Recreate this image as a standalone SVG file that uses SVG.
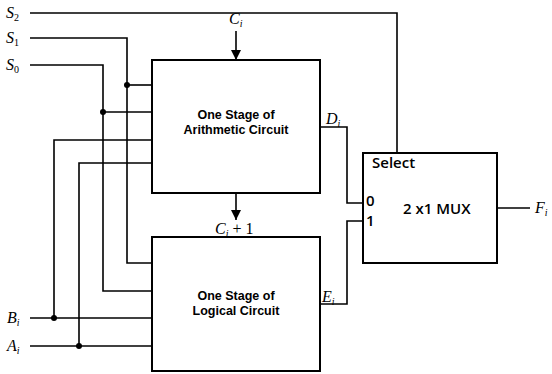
<svg xmlns="http://www.w3.org/2000/svg" width="552" height="374" viewBox="0 0 552 374">
<style>
.w{fill:none;stroke:#000;stroke-width:1.6}
.b{fill:#fff;stroke:#000;stroke-width:2}
.v{font-family:"Liberation Serif",serif;font-style:italic;font-size:16px;fill:#000}
.sub{font-size:10px}
.n{font-style:normal}
.t{font-family:"Liberation Sans",Arial,sans-serif;font-weight:bold;font-size:12.5px;fill:#000;text-anchor:middle}
.m{font-family:"Open Sans","Liberation Sans",sans-serif;font-weight:600;font-size:15px;fill:#000}
</style>
<defs>
<marker id="ah" viewBox="0 0 10 10" refX="10" refY="5" markerWidth="10" markerHeight="10" markerUnits="userSpaceOnUse" orient="auto">
<path d="M0,0 L10,5 L0,10 z" fill="#000"/>
</marker>
</defs>
<g id="labels">
<text class="v" x="6" y="18">S<tspan class="sub n" dy="3">2</tspan></text>
<text class="v" x="6" y="43">S<tspan class="sub n" dy="3">1</tspan></text>
<text class="v" x="6" y="70">S<tspan class="sub n" dy="3">0</tspan></text>
<text class="v" x="7" y="323">B<tspan class="sub" dy="3">i</tspan></text>
<text class="v" x="7" y="351">A<tspan class="sub" dy="3">i</tspan></text>
<text class="v" x="229" y="24">C<tspan class="sub" dy="3">i</tspan></text>
<text class="v" x="215" y="234">C<tspan class="sub" dy="3">i</tspan><tspan class="n" dy="-3"> + 1</tspan></text>
<text class="v" x="326" y="124">D<tspan class="sub" dy="3">i</tspan></text>
<text class="v" x="322" y="302">E<tspan class="sub" dy="3">i</tspan></text>
<text class="v" x="535" y="213">F<tspan class="sub" dy="3">i</tspan></text>
</g>
<g id="connectors">
<polyline class="w" points="30,13 397,13 397,153"/>
<polyline class="w" points="30,38 127,38 127,263 152,263"/>
<polyline class="w" points="30,65 103,65 103,291 152,291"/>
<line class="w" x1="127" y1="85" x2="152" y2="85"/>
<line class="w" x1="103" y1="112" x2="152" y2="112"/>
<polyline class="w" points="54,318 54,140 152,140"/>
<polyline class="w" points="79,346 79,163 152,163"/>
<line class="w" x1="30" y1="318" x2="152" y2="318"/>
<line class="w" x1="30" y1="346" x2="152" y2="346"/>
<line class="w" x1="236" y1="31" x2="236" y2="60" marker-end="url(#ah)"/>
<line class="w" x1="236" y1="193" x2="236" y2="220" marker-end="url(#ah)"/>
<polyline class="w" points="320,127 347,127 347,203 363,203"/>
<polyline class="w" points="320,304 347,304 347,221 363,221"/>
<line class="w" x1="497" y1="208" x2="530" y2="208"/>
<circle cx="127" cy="85" r="3"/>
<circle cx="103" cy="112" r="3"/>
<circle cx="54" cy="318" r="3"/>
<circle cx="79" cy="346" r="3"/>
</g>
<g id="arith">
<rect class="b" x="152" y="60" width="168" height="133"/>
<text class="t" x="236" y="119">One Stage of</text>
<text class="t" x="236" y="134">Arithmetic Circuit</text>
</g>
<g id="logic">
<rect class="b" x="152" y="237" width="168" height="134"/>
<text class="t" x="236" y="300">One Stage of</text>
<text class="t" x="236" y="315">Logical Circuit</text>
</g>
<g id="mux">
<rect class="b" x="363" y="153" width="134" height="110"/>
<text class="m" x="372" y="168">Select</text>
<text class="m" x="366" y="206" font-size="13">0</text>
<text class="m" x="366" y="226" font-size="13">1</text>
<text class="m" x="403" y="214" font-size="16">2 x1 MUX</text>
</g>
</svg>
